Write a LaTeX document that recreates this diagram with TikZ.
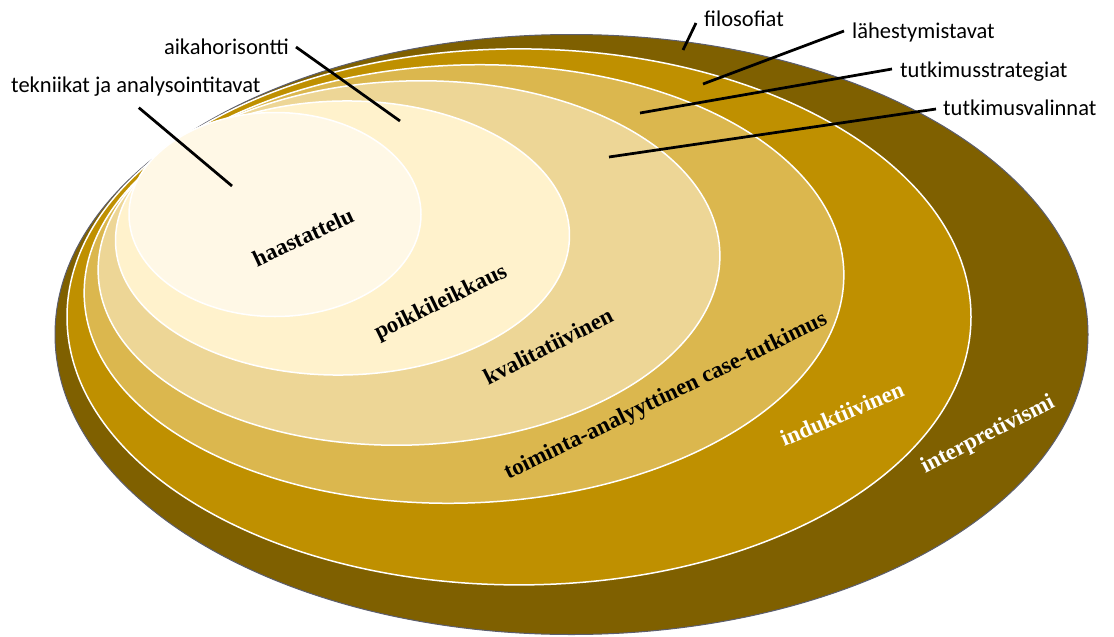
\documentclass[tikz,border=0pt]{standalone}
\usepackage{fontspec}
\setmainfont{Liberation Serif}
\newfontfamily\calib{Carlito}
\usetikzlibrary{shapes.geometric}
\definecolor{c1}{HTML}{7F6000}
\definecolor{c2}{HTML}{BF9000}
\definecolor{c3}{HTML}{DBB74E}
\definecolor{c4}{HTML}{EDD696}
\definecolor{c5}{HTML}{FFF2CC}
\definecolor{c6}{HTML}{FFF8E6}
\definecolor{rim}{HTML}{5C5E6E}
\begin{document}
\begin{tikzpicture}[x=1pt,y=-1pt,
  ring/.style={ellipse, inner sep=0pt, draw=white, line width=1.5pt},
  lbl/.style={font=\calib\fontsize{22.5}{26}\selectfont, inner sep=3pt, text height=15pt, text depth=4pt},
  inlab/.style={font=\bfseries\fontsize{23}{27}\selectfont, inner sep=0pt},
  lead/.style={line width=2.75pt, black}]
\useasboundingbox (0,0) rectangle (1114,637);
% nested ellipses
\node[ring, fill=c1, draw=rim, line width=1pt, minimum width=1033pt, minimum height=600pt] (e1) at (571.5,334.5) {};
\node[ring, fill=c2, minimum width=904pt, minimum height=536pt] (e2) at (519,316.9) {};
\node[ring, fill=c3, rotate=2, minimum width=760pt, minimum height=438pt] (e3) at (464,284) {};
\node[ring, fill=c4, rotate=2, minimum width=622pt, minimum height=364pt] (e4) at (409,263) {};
\node[ring, fill=c5, rotate=1, minimum width=454pt, minimum height=274pt] (e5) at (342.5,238) {};
\node[ring, fill=c6, minimum width=292pt, minimum height=204pt] (e6) at (275,214.5) {};
% labels inside
\node[inlab, rotate=25] (thaa) at (303,237) {haastattelu};
\node[inlab, rotate=26] (tpoi) at (441,303) {poikkileikkaus};
\node[inlab, rotate=27] (tkva) at (548,346) {kvalitatiivinen};
\node[inlab, rotate=26] (ttoi) at (666,397) {toiminta-analyyttinen case-tutkimus};
\node[inlab, rotate=23, text=white] (tind) at (842,414) {induktiivinen};
\node[inlab, rotate=27, text=white] (tint) at (988,435) {interpretivismi};
% outside labels
\node[lbl, anchor=west] (lfil) at (701,21) {filosofiat};
\node[lbl, anchor=west] (lla) at (849,33) {lähestymistavat};
\node[lbl, anchor=west] (lts) at (897,72) {tutkimusstrategiat};
\node[lbl, anchor=west] (ltv) at (940,110) {tutkimusvalinnat};
\node[lbl, anchor=east] (lai) at (292,49) {aikahorisontti};
\node[lbl, anchor=west] (ltek) at (8,87) {tekniikat ja analysointitavat};
% leader end points
\coordinate (pfil) at (683,50);
\coordinate (pla) at (703,84);
\coordinate (pts) at (640,113);
\coordinate (ptv) at (609,157);
\coordinate (pai) at (400,121);
\coordinate (ptek) at (232,186);
\draw[lead] ([xshift=-5pt,yshift=-2pt]lfil.west) -- (pfil);
\draw[lead] ([xshift=-5pt,yshift=2pt]lla.west) -- (pla);
\draw[lead] ([xshift=-5pt,yshift=3pt]lts.west) -- (pts);
\draw[lead] ([xshift=-4pt,yshift=1pt]ltv.west) -- (ptv);
\draw[lead] ([xshift=4pt,yshift=2pt]lai.east) -- (pai);
\draw[lead] ([xshift=3pt,yshift=-8pt]ltek.south) -- (ptek);
\end{tikzpicture}
\end{document}
